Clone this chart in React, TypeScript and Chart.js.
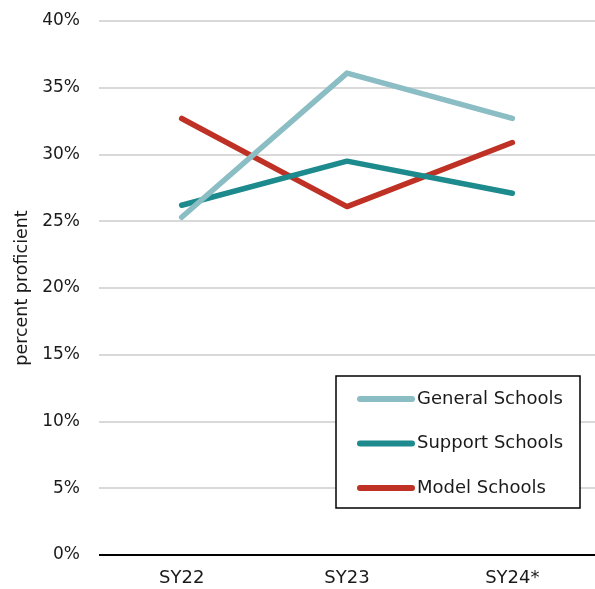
import React, { useEffect, useRef } from "react";
import { Chart, registerables } from "chart.js";

Chart.register(...registerables);

const categories = ["SY22", "SY23", "SY24*"];
const seriesNames = ["General Schools", "Support Schools", "Model Schools"];
const generalValues = [25.3, 36.1, 32.7];
const supportValues = [26.2, 29.5, 27.1];
const modelValues = [32.7, 26.1, 30.9];
const seriesColors = ["#8BBDC4", "#1D8A8D", "#BE3124"];
const yTicks = [0, 5, 10, 15, 20, 25, 30, 35, 40];

const FONT = "'DejaVu Sans', sans-serif";

const boxLegend = {
  id: "boxLegend",
  afterDraw(chart: any) {
    const { ctx, chartArea } = chart;
    const w = 244;
    const h = 132;
    const right = chartArea.right - 15;
    const bottom = chartArea.bottom - 47;
    const left = right - w;
    const top = bottom - h;
    ctx.save();
    ctx.fillStyle = "#ffffff";
    ctx.fillRect(left, top, w, h);
    ctx.strokeStyle = "#000000";
    ctx.lineWidth = 1.5;
    ctx.strokeRect(left, top, w, h);
    ctx.font = `18px ${FONT}`;
    ctx.textBaseline = "middle";
    ctx.textAlign = "left";
    chart.data.datasets.forEach((ds: any, i: number) => {
      const y = top + 23 + i * 44.5;
      ctx.strokeStyle = ds.borderColor;
      ctx.lineWidth = 6;
      ctx.lineCap = "round";
      ctx.beginPath();
      ctx.moveTo(left + 24, y);
      ctx.lineTo(left + 76, y);
      ctx.stroke();
      ctx.fillStyle = "#1a1a1a";
      ctx.fillText(ds.label, left + 81, y);
    });
    ctx.restore();
  },
};

export default function App() {
  const ref = useRef<HTMLCanvasElement>(null);
  useEffect(() => {
    if (!ref.current) return;
    const values = [generalValues, supportValues, modelValues];
    const chart = new Chart(ref.current, {
      type: "line",
      data: {
        labels: categories,
        datasets: seriesNames.map((name, i) => ({
          label: name,
          data: values[i],
          borderColor: seriesColors[i],
          backgroundColor: seriesColors[i],
          borderWidth: 5.5,
          borderCapStyle: "round",
          borderJoinStyle: "round",
          pointRadius: 0,
          tension: 0,
          fill: false,
        })),
      },
      options: {
        responsive: false,
        animation: false,
        layout: { padding: { top: 21, right: 0, bottom: 0, left: 0 } },
        plugins: {
          legend: { display: false },
          tooltip: { enabled: false },
        },
        scales: {
          x: {
            offset: true,
            grid: { display: false, drawTicks: false },
            border: { display: false },
            ticks: { color: "#1a1a1a", font: { family: FONT, size: 18 }, padding: 13 },
            afterFit: (s: any) => { s.height = 34; s.paddingLeft = 0; s.paddingRight = 0; },
          },
          y: {
            min: 0,
            max: 40,
            afterBuildTicks: (s: any) => { s.ticks = yTicks.map((v) => ({ value: v })); },
            afterFit: (s: any) => { s.width = 99; s.paddingTop = 0; s.paddingBottom = 0; },
            grid: {
              drawTicks: false,
              color: (c: any) => (c.tick && c.tick.value === 0 ? "#000000" : "#D9D9D9"),
              lineWidth: 2,
            },
            border: { display: false },
            ticks: {
              color: "#1a1a1a",
              font: { family: FONT, size: 17 },
              padding: 19,
              callback: (v: any) => `${v}%`,
            },
            title: {
              display: true,
              text: "percent proficient",
              color: "#1a1a1a",
              font: { family: FONT, size: 17.5 },
              padding: { top: 12, bottom: 0 },
            },
          },
        },
      },
      plugins: [boxLegend],
    });
    return () => chart.destroy();
  }, []);
  return (
    <div style={{ position: "absolute", left: 0, top: 0, width: 595, height: 589, background: "#fff" }}>
      <canvas ref={ref} width={595} height={589} />
    </div>
  );
}
